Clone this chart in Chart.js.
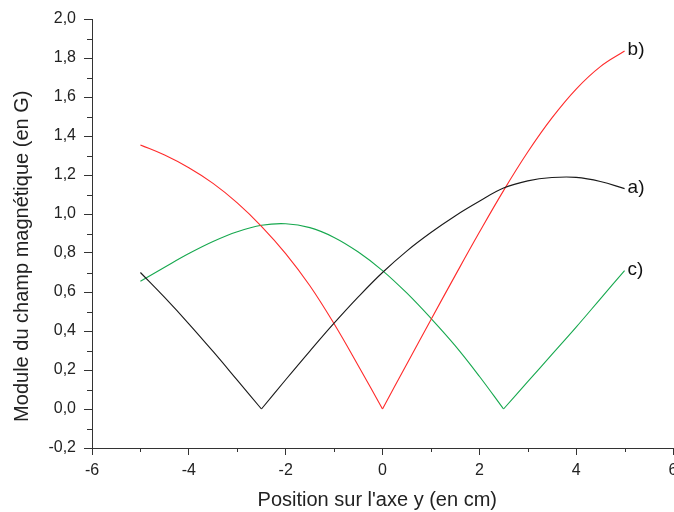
<!DOCTYPE html>
<html>
<head>
<meta charset="utf-8">
<script src="https://cdn.jsdelivr.net/npm/chart.js@4.4.0/dist/chart.umd.min.js"></script>
<style>
    html, body { margin: 0; padding: 0; background: #fff; }
    #caixa { width: 674px; height: 512px; }
</style>
</head>
<body>
<div id="caixa"><canvas id="graficoCampo"></canvas></div>
<script>
// posicao sur l'axe y (cm)
var posicaoY = [-5, -4.5, -4, -3.5, -3, -2.5, -2, -1.5, -1, -0.5, 0, 0.5, 1, 1.5, 2, 2.5, 3, 3.5, 4, 4.5, 5]

// module du champ (G)
var campoA = [0.70, 0.572, 0.437, 0.295, 0.148, 0, 0.15, 0.297, 0.44, 0.575, 0.70, 0.81, 0.905, 0.99, 1.065, 1.133, 1.17, 1.187, 1.188, 1.167, 1.13]
var campoB = [1.354, 1.302, 1.237, 1.157, 1.057, 0.937, 0.797, 0.632, 0.437, 0.222, 0, 0.23, 0.458, 0.684, 0.906, 1.12, 1.318, 1.493, 1.641, 1.756, 1.836]
var campoC = [0.655, 0.727, 0.797, 0.859, 0.909, 0.942, 0.95, 0.93, 0.88, 0.805, 0.71, 0.595, 0.465, 0.325, 0.168, 0, 0.14, 0.28, 0.42, 0.565, 0.71]

var rotulos = ['a)', 'b)', 'c)']
var cores = ['#1a1a1a', '#ff2a2a', '#16a84e']

var tituloX = "Position sur l'axe y (en cm)"
var tituloY = 'Module du champ magnétique (en G)'

var eixoX = { min: -6, max: 6, passo: 2, menor: 1 }
var eixoY = { min: -0.2, max: 2.0, passo: 0.2, menor: 0.1 }

Chart.defaults.font.family = "'Liberation Sans', Arial, sans-serif"
Chart.defaults.color = '#222'

// cada curva vira duas metades (antes e depois do zero) pra manter o bico em V
var datasets = []
var curvas = [campoA, campoB, campoC]
curvas.forEach(function (valores, i) {
    var iZero = valores.indexOf(Math.min.apply(null, valores))
    var esquerda = []
    var direita = []
    posicaoY.forEach(function (x, j) {
        if (j <= iZero) esquerda.push({ x: x, y: valores[j] })
        if (j >= iZero) direita.push({ x: x, y: valores[j] })
    })
    ;[esquerda, direita].forEach(function (parte, k) {
        datasets.push({
            label: rotulos[i],
            data: parte,
            borderColor: cores[i],
            backgroundColor: cores[i],
            borderWidth: 1.1,
            pointRadius: 0,
            tension: 0.4,
            fim: k == 1
        })
    })
})

function formatar(v) {
    return v.toFixed(1).replace('.', ',')
}

var pluginTracosMenores = {
    id: 'tracosMenores',
    afterDraw: function (chart) {
        var ctx = chart.ctx
        var sx = chart.scales.x
        var sy = chart.scales.y
        ctx.save()
        ctx.strokeStyle = '#333'
        ctx.lineWidth = 1
        ctx.beginPath()
        for (var v = eixoX.min + eixoX.menor; v < eixoX.max; v += eixoX.passo) {
            var px = Math.round(sx.getPixelForValue(v)) + 0.5
            ctx.moveTo(px, sx.top)
            ctx.lineTo(px, sx.top + 4)
        }
        for (var w = eixoY.min + eixoY.menor; w < eixoY.max; w += eixoY.passo) {
            var py = Math.round(sy.getPixelForValue(w)) + 0.5
            ctx.moveTo(sy.right, py)
            ctx.lineTo(sy.right - 5, py)
        }
        ctx.stroke()

        // titulos dos eixos
        ctx.fillStyle = '#222'
        ctx.font = "20px 'Liberation Sans', Arial, sans-serif"
        ctx.textAlign = 'center'
        ctx.textBaseline = 'middle'
        ctx.fillText(tituloX, chart.chartArea.left + (chart.chartArea.right - chart.chartArea.left) * 0.491, chart.height - 12)
        ctx.translate(22, chart.chartArea.top + (chart.chartArea.bottom - chart.chartArea.top) * 0.553)
        ctx.rotate(-Math.PI / 2)
        ctx.fillText(tituloY, 0, 0)
        ctx.restore()
    }
}

var pluginRotulos = {
    id: 'rotulosCurvas',
    afterDatasetsDraw: function (chart) {
        var ctx = chart.ctx
        ctx.save()
        ctx.font = "19px 'Liberation Sans', Arial, sans-serif"
        ctx.fillStyle = '#111'
        ctx.textAlign = 'left'
        ctx.textBaseline = 'middle'
        chart.data.datasets.forEach(function (ds, i) {
            if (!ds.fim) return
            var meta = chart.getDatasetMeta(i)
            var ultimo = meta.data[meta.data.length - 1]
            ctx.fillText(ds.label, ultimo.x + 3, ultimo.y - 1)
        })
        ctx.restore()
    }
}

const config = {
    type: 'line',
    data: { datasets: datasets },
    options: {
        responsive: true,
        maintainAspectRatio: false,
        animation: false,
        layout: { padding: { top: 19, right: 1, bottom: 0, left: 0 } },
        plugins: {
            legend: { display: false },
            tooltip: { enabled: false }
        },
        scales: {
            x: {
                type: 'linear',
                min: eixoX.min,
                max: eixoX.max,
                grid: { drawOnChartArea: false, tickLength: 7, tickColor: '#333' },
                border: { color: '#333', width: 1 },
                ticks: {
                    stepSize: eixoX.passo,
                    padding: 6,
                    font: { size: 16 },
                    color: '#222',
                    maxRotation: 0
                },
                afterFit: function (axis) {
                    axis.height = 64
                    axis.paddingLeft = 0
                    axis.paddingRight = 0
                }
            },
            y: {
                min: eixoY.min,
                max: eixoY.max,
                grid: { drawOnChartArea: false, tickLength: 8, tickColor: '#333' },
                border: { color: '#333', width: 1 },
                ticks: {
                    stepSize: eixoY.passo,
                    padding: 8,
                    font: { size: 16 },
                    color: '#222',
                    callback: function (v) { return formatar(v) }
                },
                afterFit: function (axis) {
                    axis.width = 92
                    axis.paddingTop = 0
                    axis.paddingBottom = 0
                }
            }
        }
    },
    plugins: [pluginTracosMenores, pluginRotulos]
}

var myChart = new Chart(document.getElementById('graficoCampo'), config)
</script>
</body>
</html>
